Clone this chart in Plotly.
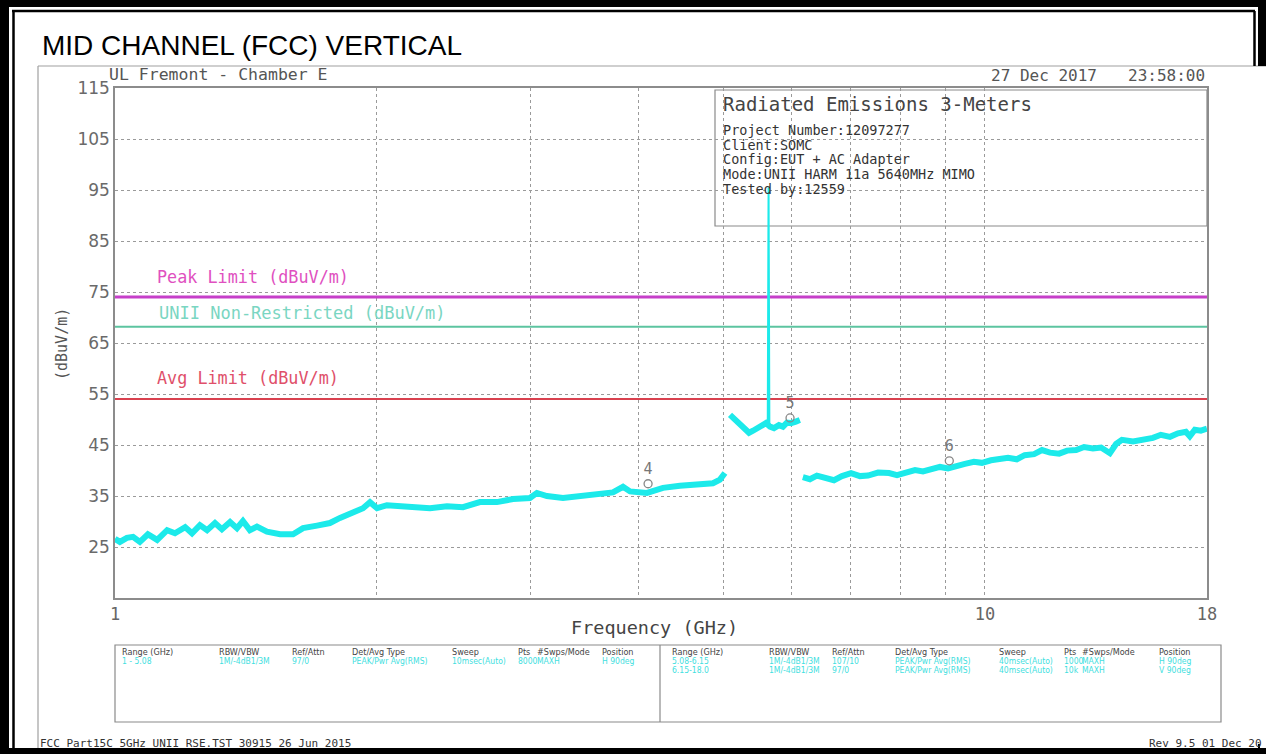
import math
import plotly.graph_objects as go

# ---------------- data ----------------
# Trace 1: 1 - 5.03 GHz sweep (GHz, dBuV/m)
sweep1_freq = [1.000, 1.013, 1.032, 1.049, 1.068, 1.091, 1.118, 1.148, 1.172, 1.204, 1.226, 1.252,
               1.276, 1.303, 1.327, 1.356, 1.381, 1.403, 1.429, 1.456, 1.495, 1.548, 1.602, 1.645,
               1.707, 1.766, 1.814, 1.877, 1.928, 1.964, 2.001, 2.054, 2.109, 2.200, 2.302, 2.408,
               2.512, 2.627, 2.748, 2.868, 2.999, 3.055, 3.137, 3.273, 3.424, 3.581, 3.736, 3.837,
               3.909, 4.088, 4.265, 4.461, 4.667, 4.868, 4.959, 5.025]
sweep1_level = [26.6, 26.0, 26.8, 27.0, 26.0, 27.5, 26.4, 28.3, 27.7, 28.9, 27.7, 29.3,
                28.3, 29.7, 28.5, 29.9, 28.7, 30.1, 28.3, 29.0, 28.0, 27.5, 27.5, 28.7,
                29.2, 29.7, 30.7, 31.7, 32.6, 33.8, 32.6, 33.2, 33.0, 32.9, 32.6, 33.0,
                32.8, 33.8, 33.8, 34.4, 34.6, 35.6, 35.0, 34.6, 35.0, 35.4, 35.7, 36.8,
                35.9, 35.6, 36.6, 37.0, 37.2, 37.5, 38.2, 39.5]

# Trace 2: 5.09 - 6.13 GHz sweep
sweep2_freq = [5.093, 5.161, 5.230, 5.299, 5.356, 5.413, 5.470, 5.543, 5.601, 5.661, 5.721,
               5.797, 5.859, 5.921, 5.984, 6.063, 6.127]
sweep2_level = [50.9, 50.0, 48.9, 48.0, 47.4, 47.8, 48.3, 49.0, 49.3, 48.6, 48.3,
                48.9, 48.6, 49.4, 49.3, 49.6, 49.9]

# Fundamental carrier spike (5640 MHz)
carrier_freq = [5.628, 5.640, 5.652]
carrier_level = [49.5, 95.5, 49.0]

# Trace 3: 6.18 - 18 GHz sweep
sweep3_freq = [6.176, 6.292, 6.410, 6.548, 6.706, 6.850, 7.016, 7.185, 7.339, 7.536, 7.758, 7.924,
               8.115, 8.310, 8.488, 8.670, 8.879, 9.069, 9.287, 9.484, 9.713, 9.921, 10.16, 10.40,
               10.63, 10.88, 11.11, 11.39, 11.63, 11.88, 12.17, 12.43, 12.73, 13.00, 13.31, 13.60,
               13.92, 14.15, 14.37, 14.80, 15.23, 15.60, 15.93, 16.32, 16.67, 17.02, 17.20, 17.43,
               17.71, 18.00]
sweep3_level = [38.7, 38.3, 39.0, 38.5, 38.1, 38.9, 39.5, 38.9, 39.0, 39.6, 39.5, 39.1,
                39.5, 40.1, 39.8, 40.2, 40.7, 40.4, 41.0, 41.3, 41.7, 41.5, 42.0, 42.3,
                42.5, 42.2, 43.0, 43.2, 44.0, 43.5, 43.3, 43.9, 44.0, 44.6, 44.3, 44.5,
                43.4, 45.2, 46.0, 45.7, 46.0, 46.4, 47.0, 46.6, 47.3, 47.6, 46.7, 48.0,
                47.8, 48.2]

# Limits
limit_freq = [1.0, 18.0]
peak_limit = [74.0, 74.0]
unii_limit = [68.2, 68.2]
avg_limit = [54.0, 54.0]

# Markers
marker_freq = [4.10, 5.97, 9.10]
marker_level = [37.4, 50.3, 41.9]
marker_labels = ["4", "5", "6"]

# Axis ticks
x_tickvals = [1, 2, 3, 4, 5, 6, 7, 8, 9, 10, 18]
x_ticktext = ["1", "", "", "", "", "", "", "", "", "10", "18"]
y_tickvals = [25, 35, 45, 55, 65, 75, 85, 95, 105, 115]

# Table text
table_headers = ["Range (GHz)", "RBW/VBW", "Ref/Attn", "Det/Avg Type", "Sweep", "Pts", "#Swps/Mode", "Position"]
table_left_rows = [["1 - 5.08", "1M/-4dB1/3M", "97/0", "PEAK/Pwr Avg(RMS)", "10msec(Auto)", "8000", "MAXH", "H 90deg"]]
table_right_rows = [["5.08-6.15", "1M/-4dB1/3M", "107/10", "PEAK/Pwr Avg(RMS)", "40msec(Auto)", "1000", "MAXH", "H 90deg"],
                    ["6.15-18.0", "1M/-4dB1/3M", "97/0", "PEAK/Pwr Avg(RMS)", "40msec(Auto)", "10k", "MAXH", "V 90deg"]]

info_title = "Radiated Emissions 3-Meters"
info_lines = ["Project Number:12097277", "Client:SOMC", "Config:EUT + AC Adapter",
              "Mode:UNII HARM 11a 5640MHz MIMO", "Tested by:12559"]

# ---------------- layout helpers ----------------
W, H = 1266, 754
L, R, T, B = 115, 1207, 88, 598


def px(x):
    return (x - L) / (R - L)


def py(y):
    return (B - y) / (B - T)


MONO = "DejaVu Sans Mono"
CYAN = "#1ceaea"

fig = go.Figure()

# limit lines
fig.add_trace(go.Scatter(x=limit_freq, y=peak_limit, mode="lines",
                         line=dict(color="#c63fc9", width=3), hoverinfo="skip"))
fig.add_trace(go.Scatter(x=limit_freq, y=unii_limit, mode="lines",
                         line=dict(color="#5cc4a0", width=2), hoverinfo="skip"))
fig.add_trace(go.Scatter(x=limit_freq, y=avg_limit, mode="lines",
                         line=dict(color="#d9414f", width=2), hoverinfo="skip"))

# sweeps
for fx, lv in [(sweep1_freq, sweep1_level), (sweep2_freq, sweep2_level), (sweep3_freq, sweep3_level)]:
    fig.add_trace(go.Scatter(x=fx, y=lv, mode="lines", line=dict(color=CYAN, width=6),
                             hoverinfo="skip"))
fig.add_trace(go.Scatter(x=carrier_freq, y=carrier_level, mode="lines",
                         line=dict(color=CYAN, width=2), hoverinfo="skip"))

# markers
fig.add_trace(go.Scatter(x=marker_freq, y=marker_level, mode="markers+text",
                         text=marker_labels, textposition="top center",
                         textfont=dict(family=MONO, size=15, color="#777777"),
                         marker=dict(symbol="circle-open", size=8, color="#888888",
                                     line=dict(width=1.3, color="#888888")),
                         hoverinfo="skip"))

shapes = []


def rect(x0, y0, x1, y1, fill=None, line_color=None, lw=0, layer="above"):
    d = dict(type="rect", xref="paper", yref="paper",
             x0=px(x0), x1=px(x1), y0=py(y1), y1=py(y0), layer=layer,
             line=dict(width=lw, color=line_color or "rgba(0,0,0,0)"))
    if fill:
        d["fillcolor"] = fill
    shapes.append(d)


def hline(x0, x1, y, color, lw=1):
    shapes.append(dict(type="line", xref="paper", yref="paper", x0=px(x0), x1=px(x1),
                       y0=py(y), y1=py(y), line=dict(color=color, width=lw)))


def vline(x, y0, y1, color, lw=1):
    shapes.append(dict(type="line", xref="paper", yref="paper", x0=px(x), x1=px(x),
                       y0=py(y0), y1=py(y1), line=dict(color=color, width=lw)))


# info box (between grid and traces)
rect(715, 90, 1207, 226, fill="white", line_color="#8a8a8a", lw=1.2, layer="between")

# chart image frame
hline(38, 1266, 66, "#a0a0a0", 1.2)
vline(38, 66, 750, "#a0a0a0", 1.2)

# table boxes
rect(115, 645, 1221, 722, line_color="#8a8a8a", lw=1.2)
vline(660, 645, 722, "#8a8a8a", 1.2)

# black document border
rect(0, 0, 1266, 7, fill="black")
rect(0, 0, 9, 754, fill="black")
rect(0, 748, 1266, 754, fill="black")
hline(12, 1255, 11, "black", 2.5)
vline(13.5, 11, 754, "black", 2.5)
rect(1258, 0, 1266, 66, fill="black")
vline(1254.5, 11, 66, "black", 2.5)
vline(1259, 744, 754, "black", 2)

ann = []


def text(x, y, s, size=12, color="#444", family=MONO, xanchor="left", yanchor="middle", angle=0):
    ann.append(dict(x=px(x), y=py(y), xref="paper", yref="paper", text=s, showarrow=False,
                    xanchor=xanchor, yanchor=yanchor, textangle=angle,
                    font=dict(family=family, size=size, color=color)))


text(40, 45, "MID CHANNEL (FCC) VERTICAL", size=28, color="black", family="Liberation Sans")
text(107, 74, "UL Fremont - Chamber E", size=16.5, color="#555")
text(989, 75, "27 Dec 2017", size=16, color="#555")
text(1207, 75, "23:58:00", size=16, color="#555", xanchor="right")

text(721, 104, info_title, size=19, color="#444")
for i, s in enumerate(info_lines):
    text(721, 130 + i * 14.7, s, size=13.5, color="#333")

text(155, 277, "Peak Limit (dBuV/m)", size=16.8, color="#e050c0")
text(157, 313, "UNII Non-Restricted (dBuV/m)", size=17, color="#7ad6c2")
text(155, 378, "Avg Limit (dBuV/m)", size=16.8, color="#e0506a")

text(62, 344, "(dBuV/m)", size=15, color="#555", xanchor="center", angle=-90)
text(654, 627, "Frequency (GHz)", size=18.5, color="#444", xanchor="center")

# table text
NARROW = "Liberation Sans Narrow, DejaVu Sans Condensed, Arial Narrow, sans-serif"
left_cols = [120, 217, 290, 350, 450, 516, 535, 600]
right_cols = [670, 767, 830, 893, 997, 1062, 1080, 1157]
for cols, rows in [(left_cols, table_left_rows), (right_cols, table_right_rows)]:
    for c, h in zip(cols, table_headers):
        text(c, 652, h, size=9, color="#444", family=NARROW)
    for r, row in enumerate(rows):
        for c, v in zip(cols, row):
            text(c, 661 + r * 8.5, v, size=8.5, color="#3fe0e0", family=NARROW)

text(38, 744, "FCC Part15C 5GHz UNII RSE.TST 30915 26 Jun 2015", size=11, color="#333")
text(1264, 744, "Rev 9.5 01 Dec 20", size=11, color="#333", xanchor="right")

fig.update_layout(
    width=W, height=H,
    margin=dict(l=L, r=W - R, t=T, b=H - B, pad=0),
    paper_bgcolor="white", plot_bgcolor="white",
    showlegend=False,
    shapes=shapes, annotations=ann,
    xaxis=dict(type="log", range=[0, math.log10(18)], tickvals=x_tickvals, ticktext=x_ticktext,
               showgrid=True, gridcolor="#9a9a9a", griddash="dot", gridwidth=1,
               showline=True, linecolor="#8c8c8c", linewidth=1.5, mirror=True,
               ticks="", zeroline=False, tickfont=dict(family=MONO, size=17, color="#666")),
    yaxis=dict(range=[15, 115], tickvals=y_tickvals, showgrid=True, gridcolor="#9a9a9a",
               griddash="dot", gridwidth=1, showline=True, linecolor="#8c8c8c", linewidth=1.5,
               mirror=True, ticks="", zeroline=False,
               tickfont=dict(family="DejaVu Sans", size=17, color="#6a6a6a")),
)

fig.write_html("out.html", config={"displayModeBar": False},
               post_script="document.body.style.margin='0';document.body.style.overflow='hidden';")
